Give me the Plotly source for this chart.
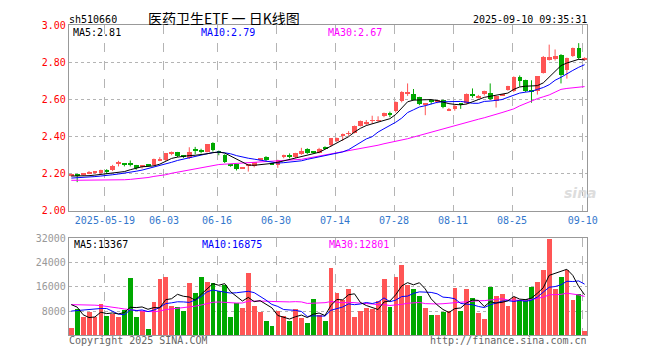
import plotly.graph_objects as go

# ---------------- data ----------------
dates = [
    "2025-05-09", "2025-05-12", "2025-05-13", "2025-05-14", "2025-05-15", "2025-05-16",
    "2025-05-19", "2025-05-20", "2025-05-21", "2025-05-22", "2025-05-23",
    "2025-05-26", "2025-05-27", "2025-05-28", "2025-05-29", "2025-05-30",
    "2025-06-03", "2025-06-04", "2025-06-05", "2025-06-06",
    "2025-06-09", "2025-06-10", "2025-06-11", "2025-06-12", "2025-06-13",
    "2025-06-16", "2025-06-17", "2025-06-18", "2025-06-19", "2025-06-20",
    "2025-06-23", "2025-06-24", "2025-06-25", "2025-06-26", "2025-06-27",
    "2025-06-30", "2025-07-01", "2025-07-02", "2025-07-03", "2025-07-04",
    "2025-07-07", "2025-07-08", "2025-07-09", "2025-07-10", "2025-07-11",
    "2025-07-14", "2025-07-15", "2025-07-16", "2025-07-17", "2025-07-18",
    "2025-07-21", "2025-07-22", "2025-07-23", "2025-07-24", "2025-07-25",
    "2025-07-28", "2025-07-29", "2025-07-30", "2025-07-31", "2025-08-01",
    "2025-08-04", "2025-08-05", "2025-08-06", "2025-08-07", "2025-08-08",
    "2025-08-11", "2025-08-12", "2025-08-13", "2025-08-14", "2025-08-15",
    "2025-08-18", "2025-08-19", "2025-08-20", "2025-08-21", "2025-08-22",
    "2025-08-25", "2025-08-26", "2025-08-27", "2025-08-28", "2025-08-29",
    "2025-09-01", "2025-09-02", "2025-09-03", "2025-09-04", "2025-09-05",
    "2025-09-08", "2025-09-09", "2025-09-10",
]

opens = [2.190, 2.196, 2.193, 2.200, 2.203, 2.205, 2.215, 2.220, 2.256, 2.250,
         2.256, 2.245, 2.237, 2.248, 2.244, 2.270, 2.273, 2.304, 2.317, 2.294,
         2.284, 2.327, 2.322, 2.317, 2.362, 2.316, 2.300, 2.247, 2.249, 2.230,
         2.242, 2.240, 2.276, 2.290, 2.255, 2.247, 2.287, 2.298, 2.287, 2.305,
         2.334, 2.319, 2.313, 2.341, 2.352, 2.374, 2.400, 2.414, 2.420, 2.457,
         2.468, 2.484, 2.484, 2.510, 2.527, 2.534, 2.588, 2.634, 2.626, 2.610,
         2.570, 2.593, 2.587, 2.595, 2.543, 2.548, 2.576, 2.578, 2.630, 2.610,
         2.626, 2.635, 2.592, 2.623, 2.652, 2.644, 2.722, 2.704, 2.647, 2.644,
         2.743, 2.814, 2.817, 2.838, 2.757, 2.835, 2.875, 2.814]
highs = [2.200, 2.200, 2.203, 2.215, 2.215, 2.222, 2.225, 2.248, 2.270, 2.256,
         2.272, 2.248, 2.245, 2.252, 2.282, 2.290, 2.310, 2.320, 2.318, 2.300,
         2.343, 2.345, 2.335, 2.360, 2.370, 2.325, 2.305, 2.250, 2.252, 2.236,
         2.250, 2.263, 2.283, 2.295, 2.260, 2.276, 2.303, 2.310, 2.313, 2.340,
         2.338, 2.322, 2.340, 2.348, 2.393, 2.395, 2.417, 2.430, 2.460, 2.487,
         2.490, 2.513, 2.510, 2.530, 2.535, 2.590, 2.645, 2.687, 2.657, 2.615,
         2.580, 2.600, 2.597, 2.600, 2.555, 2.572, 2.580, 2.633, 2.660, 2.625,
         2.648, 2.687, 2.620, 2.630, 2.674, 2.725, 2.730, 2.707, 2.704, 2.727,
         2.835, 2.896, 2.870, 2.845, 2.826, 2.880, 2.904, 2.828]
lows = [2.185, 2.155, 2.190, 2.198, 2.200, 2.200, 2.200, 2.215, 2.240, 2.240,
        2.240, 2.222, 2.228, 2.240, 2.242, 2.268, 2.270, 2.300, 2.290, 2.285,
        2.280, 2.305, 2.310, 2.315, 2.320, 2.300, 2.258, 2.238, 2.218, 2.228,
        2.212, 2.235, 2.270, 2.268, 2.248, 2.232, 2.284, 2.283, 2.285, 2.302,
        2.307, 2.310, 2.310, 2.333, 2.345, 2.370, 2.378, 2.405, 2.418, 2.455,
        2.462, 2.470, 2.478, 2.505, 2.505, 2.530, 2.585, 2.620, 2.595, 2.570,
        2.516, 2.575, 2.580, 2.553, 2.538, 2.540, 2.550, 2.575, 2.610, 2.605,
        2.622, 2.597, 2.557, 2.620, 2.648, 2.640, 2.670, 2.640, 2.583, 2.627,
        2.740, 2.810, 2.810, 2.687, 2.713, 2.830, 2.815, 2.810]
closes = [2.196, 2.190, 2.200, 2.210, 2.210, 2.218, 2.212, 2.243, 2.258, 2.248,
          2.244, 2.228, 2.240, 2.244, 2.279, 2.273, 2.308, 2.316, 2.292, 2.291,
          2.317, 2.324, 2.319, 2.357, 2.326, 2.312, 2.260, 2.243, 2.226, 2.233,
          2.245, 2.260, 2.279, 2.270, 2.252, 2.273, 2.300, 2.295, 2.310, 2.322,
          2.310, 2.316, 2.330, 2.338, 2.391, 2.391, 2.412, 2.417, 2.457, 2.482,
          2.471, 2.487, 2.487, 2.525, 2.518, 2.583, 2.640, 2.638, 2.597, 2.574,
          2.574, 2.589, 2.590, 2.557, 2.546, 2.565, 2.573, 2.630, 2.618, 2.618,
          2.643, 2.600, 2.618, 2.626, 2.670, 2.722, 2.696, 2.644, 2.643, 2.725,
          2.830, 2.830, 2.835, 2.730, 2.823, 2.875, 2.823, 2.817]

ma5 = [2.188, 2.188, 2.190, 2.190, 2.193, 2.197, 2.200, 2.205, 2.209, 2.212,
       2.222, 2.232, 2.238, 2.240, 2.243, 2.252, 2.266, 2.283, 2.290, 2.295,
       2.298, 2.300, 2.302, 2.308, 2.314, 2.317, 2.312, 2.296, 2.276, 2.260,
       2.247, 2.246, 2.248, 2.252, 2.256, 2.262, 2.270, 2.276, 2.282, 2.290,
       2.300, 2.308, 2.316, 2.332, 2.350, 2.365, 2.385, 2.400, 2.425, 2.445,
       2.460, 2.470, 2.480, 2.488, 2.497, 2.520, 2.556, 2.588, 2.597, 2.598,
       2.600, 2.600, 2.595, 2.585, 2.578, 2.574, 2.572, 2.576, 2.590, 2.600,
       2.612, 2.618, 2.622, 2.627, 2.635, 2.655, 2.668, 2.672, 2.672, 2.675,
       2.690, 2.722, 2.756, 2.783, 2.797, 2.809, 2.817, 2.813]
ma10 = [2.177, 2.178, 2.180, 2.183, 2.185, 2.188, 2.190, 2.195, 2.199, 2.203,
        2.208, 2.214, 2.220, 2.228, 2.235, 2.244, 2.252, 2.262, 2.272, 2.280,
        2.287, 2.293, 2.300, 2.308, 2.314, 2.317, 2.313, 2.308, 2.298, 2.290,
        2.284, 2.279, 2.274, 2.266, 2.260, 2.258, 2.260, 2.262, 2.264, 2.270,
        2.278, 2.285, 2.290, 2.296, 2.303, 2.310, 2.318, 2.330, 2.350, 2.370,
        2.388, 2.400, 2.425, 2.443, 2.460, 2.478, 2.500, 2.530, 2.545, 2.560,
        2.567, 2.575, 2.585, 2.588, 2.590, 2.592, 2.590, 2.586, 2.580, 2.580,
        2.590, 2.592, 2.595, 2.600, 2.612, 2.625, 2.635, 2.640, 2.644, 2.655,
        2.665, 2.680, 2.704, 2.720, 2.740, 2.757, 2.774, 2.788]
ma30 = [2.165, 2.165, 2.165, 2.165, 2.165, 2.165, 2.165, 2.165, 2.165, 2.168,
        2.170, 2.172, 2.175, 2.180, 2.186, 2.190, 2.195, 2.203, 2.209, 2.215,
        2.222, 2.228, 2.235, 2.242, 2.247, 2.250, 2.252, 2.254, 2.256, 2.258,
        2.260, 2.262, 2.264, 2.265, 2.266, 2.267, 2.269, 2.272, 2.275, 2.278,
        2.284, 2.290, 2.295, 2.300, 2.305, 2.310, 2.318, 2.325, 2.332, 2.338,
        2.344, 2.350, 2.354, 2.362, 2.368, 2.374, 2.380, 2.389, 2.398, 2.407,
        2.417, 2.425, 2.432, 2.443, 2.452, 2.460, 2.468, 2.478, 2.486, 2.494,
        2.502, 2.510, 2.520, 2.530, 2.540, 2.550, 2.566, 2.580, 2.595, 2.605,
        2.615, 2.625, 2.640, 2.655, 2.660, 2.663, 2.667, 2.670]

volume = [2350, 8750, 5870, 7470, 5870, 10240, 6400, 6930, 5870, 8210,
          18880, 5870, 8000, 2030, 10990, 18560, 19200, 9600, 9280, 7790,
          17280, 13870, 19200, 17600, 17280, 14620, 16540, 5870, 10460, 9070,
          20590, 9600, 7470, 4800, 2880, 8000, 6400, 4800, 8640, 5550,
          3950, 11950, 6720, 4480, 22080, 13870, 11420, 15040, 6080, 7790,
          8850, 8640, 11200, 18560, 9390, 19200, 23150, 16540, 15040, 12800,
          8960, 6720, 6720, 7470, 7790, 15360, 7790, 15040, 12270, 7150,
          5230, 15790, 12800, 13440, 9600, 12480, 11420, 11950, 16000, 17600,
          21550, 31790, 15040, 19200, 21330, 11520, 13440, 1390]
vol_ma5 = [10130, 9300, 6800, 5870, 6062, 7640, 7170, 7382, 7062, 7530,
           9258, 9152, 9366, 8598, 9154, 9090, 11756, 12076, 13526, 12886,
           12630, 11564, 13484, 15148, 17046, 16514, 17048, 14382, 12954, 11312,
           12506, 11118, 11438, 10306, 9068, 6550, 5910, 5376, 6144, 6678,
           5868, 6978, 7362, 6530, 9836, 11820, 11714, 13378, 13698, 10840,
           9836, 9280, 8512, 11008, 11328, 13398, 16300, 17368, 16664, 17346,
           15298, 12012, 10048, 8534, 7532, 8812, 9026, 10690, 11650, 11522,
           9496, 11096, 10648, 10882, 11372, 12822, 11948, 11778, 12290, 13890,
           15704, 19778, 20396, 21036, 21782, 19776, 16106, 13376]
vol_ma10 = [8000, 8200, 8400, 8600, 8800, 8850, 8850, 8000, 7000, 6796,
            8449, 8161, 8374, 7830, 8342, 9174, 10454, 10721, 11062, 11020,
            10860, 11660, 12780, 14337, 14966, 14572, 14306, 13933, 14051, 14179,
            14510, 14083, 12910, 11630, 10190, 9528, 8514, 8407, 8225, 7873,
            6209, 6444, 6369, 6337, 8257, 8844, 9346, 10370, 10114, 10338,
            10828, 10497, 10945, 12353, 11084, 11617, 12790, 12940, 13836, 14337,
            14348, 14156, 13708, 12599, 12439, 12055, 10519, 10369, 10092, 9527,
            9154, 10061, 10669, 11266, 11447, 11159, 11522, 11213, 11586, 12631,
            14263, 15863, 16087, 16663, 17836, 17740, 17942, 16886]
vol_ma30 = [10130, 10130, 10100, 10050, 9950, 9800, 9600, 9280, 9000, 8700,
            8400, 8200, 8000, 7850, 7800, 8000, 8500, 8700, 8900, 9070,
            9300, 9600, 10000, 10500, 10900, 10990, 10800, 10700, 10650, 10665,
            11273, 11301, 11355, 11266, 11166, 11091, 11091, 11020, 11113, 11024,
            10526, 10729, 10686, 10768, 11138, 10981, 10722, 10903, 10797, 10797,
            10516, 10341, 10075, 10107, 9844, 9996, 10217, 10572, 10725, 10849,
            10462, 10366, 10341, 10430, 10593, 10839, 10885, 11226, 11347, 11401,
            11443, 11571, 11774, 12073, 11657, 11610, 11610, 11507, 11838, 12165,
            12588, 13360, 13488, 13509, 13907, 13651, 13328, 12823]

tick_dates = ["2025-05-19", "2025-06-03", "2025-06-16", "2025-06-30", "2025-07-14",
              "2025-07-28", "2025-08-11", "2025-08-25", "2025-09-10"]
price_ticks = [2.00, 2.20, 2.40, 2.60, 2.80, 3.00]
vol_ticks = [8000, 16000, 24000, 32000]

symbol = "sh510660"
title_text = "医药卫生ETF 一 日K线图"
timestamp = "2025-09-10 09:35:31"
price_ma_labels = ["MA5:2.81", "MA10:2.79", "MA30:2.67"]
vol_ma_labels = ["MA5:13367", "MA10:16875", "MA30:12801"]

for arr in (opens, highs, lows, closes, ma5, ma10, ma30, volume, vol_ma5, vol_ma10, vol_ma30):
    assert len(arr) == len(dates), len(arr)

# ---------------- figure ----------------
W, H = 660, 360
RED = "#ff5555"
GREEN = "#00a800"
MONO = "DejaVu Sans Mono"

n = len(dates)
xs = list(range(n))
up = [c >= o for o, c in zip(opens, closes)]
cols = [RED if u else GREEN for u in up]

fig = go.Figure()

# wicks
for flag, col in ((True, RED), (False, GREEN)):
    wx, wy = [], []
    for i in xs:
        if up[i] == flag:
            wx += [i, i, None]
            wy += [lows[i], highs[i], None]
    fig.add_trace(go.Scatter(x=wx, y=wy, mode="lines", line=dict(color=col, width=1),
                             hoverinfo="skip", xaxis="x", yaxis="y"))

# bodies
min_body = 0.0052
heights = [max(abs(c - o), min_body) for o, c in zip(opens, closes)]
bases = [(o + c) / 2 - h / 2 for o, c, h in zip(opens, closes, heights)]
fig.add_trace(go.Bar(x=xs, y=heights, base=bases, width=0.8,
                     marker=dict(color=cols, line=dict(width=0)), xaxis="x", yaxis="y"))

# price MAs
for arr, col in ((ma30, "#ff00ff"), (ma10, "#0000ff"), (ma5, "#000000")):
    fig.add_trace(go.Scatter(x=xs, y=arr, mode="lines", line=dict(color=col, width=1),
                             xaxis="x", yaxis="y"))

# volume
fig.add_trace(go.Bar(x=xs, y=volume, width=0.82, marker=dict(color=cols, line=dict(width=0)),
                     xaxis="x2", yaxis="y2"))
for arr, col in ((vol_ma30, "#ff00ff"), (vol_ma10, "#0000ff"), (vol_ma5, "#000000")):
    fig.add_trace(go.Scatter(x=xs, y=arr, mode="lines", line=dict(color=col, width=1),
                             xaxis="x2", yaxis="y2"))

tick_idx = [dates.index(d) - 0.3 for d in tick_dates]
tick_txt = [tick_dates[0]] + [d[5:] for d in tick_dates[1:]]

x_dom = [70 / W, 597 / W]
x_rng = [-0.417, 87.417]
grid_col = "#b4b4b4"
frame_col = "#999999"

fig.update_layout(
    width=W, height=H, margin=dict(l=0, r=0, t=0, b=0),
    paper_bgcolor="white", plot_bgcolor="white", showlegend=False,
    barmode="overlay", bargap=0,
    xaxis=dict(domain=x_dom, range=x_rng, anchor="y", tickmode="array",
               tickvals=tick_idx, ticktext=tick_txt, showgrid=True, gridcolor=grid_col,
               griddash="dash", gridwidth=1, showline=True, mirror=True, linecolor=frame_col,
               linewidth=1, zeroline=False, ticks="",
               tickfont=dict(family=MONO, size=10, color="#3377cc")),
    yaxis=dict(domain=[(H - 212) / H, (H - 20) / H], range=[2.0, 3.0], anchor="x",
               tickmode="array", tickvals=price_ticks, ticktext=[f"{v:.2f}" for v in price_ticks],
               showgrid=True, gridcolor=grid_col, griddash="dot", showline=True, mirror=True,
               linecolor=frame_col, linewidth=1, zeroline=False, ticks="",
               tickfont=dict(family=MONO, size=10, color="#ff0000")),
    xaxis2=dict(domain=x_dom, range=x_rng, anchor="y2", tickmode="array",
                tickvals=tick_idx, showticklabels=False, showgrid=True, gridcolor=grid_col,
                griddash="dash", showline=True, mirror=True, linecolor=frame_col,
                linewidth=1, zeroline=False, ticks=""),
    yaxis2=dict(domain=[(H - 340.7) / H, (H - 240.3) / H], range=[0, 32000], anchor="x2",
                tickmode="array", tickvals=vol_ticks, ticktext=[str(v) for v in vol_ticks],
                showgrid=True, gridcolor=grid_col, griddash="dot", showline=True, mirror=True,
                linecolor=frame_col, linewidth=1, zeroline=False, ticks="",
                tickfont=dict(family=MONO, size=10, color="#999999")),
)

def ann(text, x, y, color="#000000", size=10, family=MONO, xanchor="left", h=12):
    fig.add_annotation(text=text, x=x / W, y=1 - y / H, xref="paper", yref="paper",
                       xanchor=xanchor, yanchor="middle", showarrow=False, height=h,
                       borderpad=0, font=dict(family=family, size=size, color=color))

ann(symbol, 69, 13)
ann(title_text, 149, 12, size=14, family="Noto Sans CJK SC", h=14)
ann(timestamp, 598, 13, xanchor="right")
ma_cols = ["#000000", "#0000ff", "#ff00ff"]
for k, (lab, col) in enumerate(zip(price_ma_labels, ma_cols)):
    ann(lab, 73 + 130 * k, 26.5, color=col)
for k, (lab, col) in enumerate(zip(vol_ma_labels, ma_cols)):
    ann(lab, 74 + 130 * k, 246.5, color=col)
ann("Copyright 2025 SINA.COM", 69, 346, color="#666666")
ann("http://finance.sina.com.cn", 598, 346, color="#666666", xanchor="right")
ann("<b><i>sina</i></b>", 573, 193, color="#dddddd", size=14, family="DejaVu Sans", h=16)

fig.write_html("out.html", config={"displayModeBar": False},
               post_script="document.body.style.margin='0';document.body.style.overflow='hidden';")
